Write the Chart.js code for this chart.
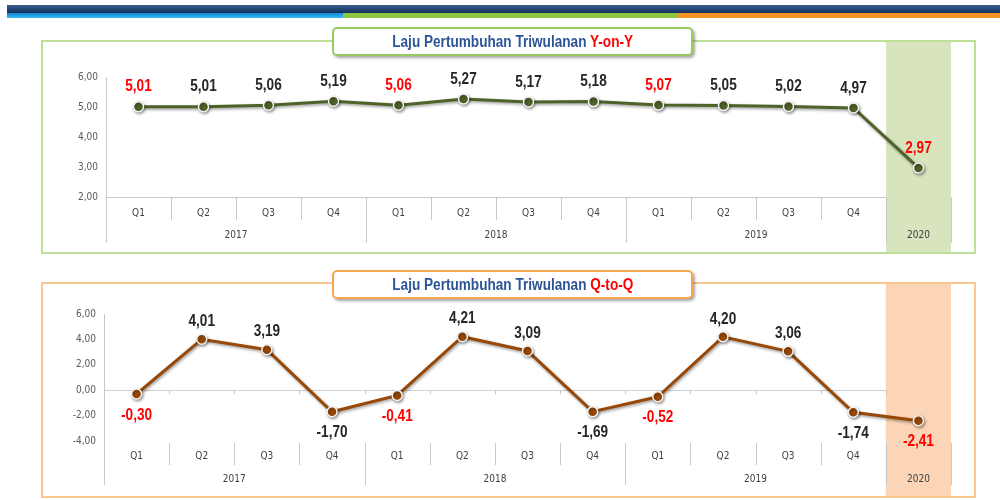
<!DOCTYPE html>
<html>
<head>
<meta charset="utf-8">
<script src="https://cdn.jsdelivr.net/npm/chart.js@4.4.1/dist/chart.umd.min.js"></script>
<style>
    html, body { margin: 0; padding: 0; background: #fff; }
    #page { position: relative; width: 1000px; height: 500px; overflow: hidden; font-family: "Liberation Sans", sans-serif; }
    .stripe-dark { position: absolute; left: 7px; top: 5px; width: 993px; height: 8px; background: linear-gradient(#3a5d8c, #12305e); }
    .stripe { position: absolute; top: 13px; height: 5px; }
    .panel { position: absolute; left: 41px; width: 935px; box-sizing: border-box; }
    .title-box { position: absolute; left: 332px; width: 361px; height: 29px; box-sizing: border-box; background: #fff;
        border-radius: 5px; box-shadow: 2px 2px 3px rgba(0,0,0,0.35); text-align: center; line-height: 25px; z-index: 3; }
    .title-box .txt { display: inline-block; transform: scaleX(0.85); white-space: nowrap;
        font-weight: bold; font-size: 16px; color: #2b5597; }
    .title-box .red { color: #ff0000; }
    canvas { position: absolute; left: 0; z-index: 2; }
</style>
</head>
<body>
<div id="page">
    <div class="stripe-dark"></div>
    <div class="stripe" style="left:7px;width:336px;background:linear-gradient(#0f8ad6,#3bb8f0);"></div>
    <div class="stripe" style="left:343px;width:335px;background:#8cc63e;"></div>
    <div class="stripe" style="left:678px;width:322px;background:#f39321;"></div>

    <div class="panel" style="top:40px;height:214px;border:2px solid #bde096;"></div>
    <div class="panel" style="top:282px;height:216px;border:2px solid #fcc793;"></div>

    <div class="title-box" style="top:27px;border:2px solid #97cc5c;"><span class="txt">Laju Pertumbuhan Triwulanan <span class="red">Y-on-Y</span></span></div>
    <div class="title-box" style="top:270px;border:2px solid #f5a64f;"><span class="txt">Laju Pertumbuhan Triwulanan <span class="red">Q-to-Q</span></span></div>

    <canvas id="yoyChart" width="1000" height="260" style="top:0;"></canvas>
    <canvas id="qtqChart" width="1000" height="240" style="top:260px;"></canvas>
</div>

<script>
    // data
    var quarters = ['Q1','Q2','Q3','Q4','Q1','Q2','Q3','Q4','Q1','Q2','Q3','Q4','Q1'];
    var years = ['2017','2018','2019','2020'];
    var yearSpan = [4, 4, 4, 1];
    var yoyValues = [5.01, 5.01, 5.06, 5.19, 5.06, 5.27, 5.17, 5.18, 5.07, 5.05, 5.02, 4.97, 2.97];
    var qtqValues = [-0.30, 4.01, 3.19, -1.70, -0.41, 4.21, 3.09, -1.69, -0.52, 4.20, 3.06, -1.74, -2.41];
    var yoyTicks = [2, 3, 4, 5, 6];
    var qtqTicks = [-4, -2, 0, 2, 4, 6];

    var FONT = '"DejaVu Sans Condensed", "Liberation Sans", sans-serif';

    function fmt(v) {
        return v.toFixed(2).replace('.', ',');
    }

    // highlight band, separators, year labels, value labels
    var decoPlugin = {
        id: 'deco',
        beforeDatasetsDraw: function(chart, args, opts) {
            var ctx = chart.ctx, x = chart.scales.x, area = chart.chartArea;
            var w = x.getPixelForValue(1) - x.getPixelForValue(0);
            var edge = function(i){ return x.getPixelForValue(0) - w / 2 + i * w; };
            var last = quarters.length - 1;

            ctx.save();
            ctx.fillStyle = opts.band;
            ctx.fillRect(edge(last), opts.bandTop, w, opts.bandBottom - opts.bandTop);

            // y axis extension down through the label rows
            ctx.strokeStyle = '#c8c8c8';
            ctx.lineWidth = 1;
            ctx.beginPath();
            ctx.moveTo(Math.round(area.left) + 0.5, area.bottom);
            ctx.lineTo(Math.round(area.left) + 0.5, area.bottom + opts.yearLen);
            ctx.stroke();

            // quarter / year separators
            var yearEdges = [0], acc = 0;
            yearSpan.forEach(function(n){ acc += n; yearEdges.push(acc); });
            for (var i = 1; i <= quarters.length; i++) {
                var px = Math.round(edge(i)) + 0.5;
                var len = yearEdges.indexOf(i) >= 0 ? opts.yearLen : opts.quarterLen;
                ctx.beginPath();
                ctx.moveTo(px, area.bottom + opts.sepStart);
                ctx.lineTo(px, area.bottom + len);
                ctx.stroke();
            }

            // small ticks on the zero line
            if (opts.zeroTicks) {
                var zy = chart.scales.y.getPixelForValue(0);
                for (var j = 1; j < quarters.length; j++) {
                    var tx = Math.round(edge(j)) + 0.5;
                    ctx.beginPath();
                    ctx.moveTo(tx, zy);
                    ctx.lineTo(tx, zy + 4);
                    ctx.stroke();
                }
            }

            // year labels
            ctx.fillStyle = '#404040';
            ctx.font = '10px ' + FONT;
            ctx.textAlign = 'center';
            ctx.textBaseline = 'middle';
            for (var k = 0; k < years.length; k++) {
                var cx = (edge(yearEdges[k]) + edge(yearEdges[k + 1])) / 2;
                ctx.fillText(years[k], cx, area.bottom + opts.yearY);
            }
            ctx.restore();

            // shadow for line and points
            ctx.save();
            ctx.shadowColor = 'rgba(0,0,0,0.4)';
            ctx.shadowBlur = 3;
            ctx.shadowOffsetX = 1;
            ctx.shadowOffsetY = 1.5;
        },
        afterDatasetsDraw: function(chart, args, opts) {
            var ctx = chart.ctx;
            ctx.restore();

            var meta = chart.getDatasetMeta(0);
            var values = chart.data.datasets[0].data;
            meta.data.forEach(function(pt, i) {
                var v = values[i];
                var below = opts.signed && v < 0;
                ctx.save();
                ctx.translate(pt.x, below ? pt.y + opts.below : pt.y - opts.above);
                ctx.scale(0.8, 1);   // narrow look
                ctx.font = 'bold 17px "Liberation Sans", sans-serif';
                ctx.textAlign = 'center';
                ctx.textBaseline = 'middle';
                ctx.fillStyle = quarters[i] === 'Q1' ? '#ff0000' : '#262626';
                ctx.fillText(fmt(v), 0, 0);
                ctx.restore();
            });
        }
    };

    function makeChart(id, values, ticks, color, deco, layout, zeroLine) {
        return new Chart(document.getElementById(id), {
            type: 'line',
            data: {
                labels: quarters,
                datasets: [{
                    data: values,
                    borderColor: color,
                    borderWidth: 3,
                    backgroundColor: color,
                    pointBackgroundColor: color,
                    pointBorderColor: '#f4f4f4',
                    pointBorderWidth: 1.5,
                    pointRadius: 5,
                    tension: 0
                }]
            },
            options: {
                responsive: false,
                animation: false,
                events: [],
                layout: { padding: layout.padding },
                plugins: {
                    legend: { display: false },
                    tooltip: { enabled: false },
                    deco: deco
                },
                scales: {
                    x: {
                        offset: true,
                        grid: { display: true, drawOnChartArea: false, drawTicks: false },
                        border: { display: !zeroLine, color: '#c8c8c8' },
                        ticks: { color: '#404040', font: { size: 10, family: FONT }, padding: layout.tickPad, maxRotation: 0 },
                        afterFit: function(s){ s.height = layout.xHeight; }
                    },
                    y: {
                        min: ticks[0],
                        max: ticks[ticks.length - 1],
                        afterBuildTicks: function(s){ s.ticks = ticks.map(function(v){ return {value: v}; }); },
                        grid: {
                            drawTicks: false,
                            drawOnChartArea: zeroLine,
                            color: function(c){ return c.tick && c.tick.value === 0 ? '#d0d0d0' : 'rgba(0,0,0,0)'; }
                        },
                        border: { color: '#c8c8c8' },
                        ticks: { color: '#595959', font: { size: 10, family: FONT }, padding: 8, callback: function(v){ return fmt(v); } },
                        afterFit: function(s){ s.width = layout.yWidth; }
                    }
                }
            },
            plugins: [decoPlugin]
        });
    }

    makeChart('yoyChart', yoyValues, yoyTicks, '#4f6228',
        { band: '#d7e4bd', bandTop: 42, bandBottom: 252, sepStart: 1, quarterLen: 23, yearLen: 46, yearY: 38, above: 20, below: 20, signed: false, zeroTicks: false },
        { padding: { left: 0, right: 49, top: 77, bottom: 0 }, yWidth: 106, xHeight: 63, tickPad: 10 },
        false);

    makeChart('qtqChart', qtqValues, qtqTicks, '#984807',
        { band: '#fbd5b5', bandTop: 24, bandBottom: 236, sepStart: 2, quarterLen: 24, yearLen: 44, yearY: 38, above: 18, below: 21, signed: true, zeroTicks: true },
        { padding: { left: 0, right: 49, top: 54, bottom: 0 }, yWidth: 104, xHeight: 59, tickPad: 9 },
        true);
</script>
</body>
</html>
